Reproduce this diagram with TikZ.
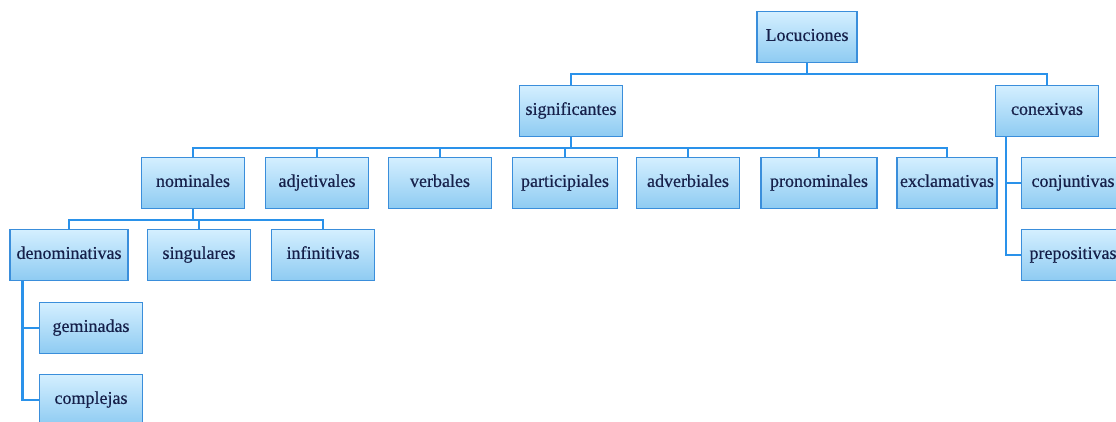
\documentclass[tikz,border=0pt]{standalone}
\usepackage{fontspec}
\setmainfont{Liberation Serif}
\newfontfamily\boxfont[FakeBold=0.4]{Liberation Serif}
\usepackage{xcolor}
\usepackage{tikz}
\definecolor{boxline}{HTML}{3A8EDB}
\definecolor{boxtop}{HTML}{D4EFFF}
\definecolor{boxbot}{HTML}{8ECBF2}
\definecolor{wire}{HTML}{2A92EA}
\definecolor{ink}{HTML}{16204A}

\begin{document}
\begin{tikzpicture}[x=1pt,y=-1pt,
  box/.style={draw=boxline, line width=1.3pt, top color=boxtop, bottom color=boxbot,
    minimum height=51pt, minimum width=#1, inner sep=1pt, text=ink,
    text height=1.0em, text depth=0.22em,
    font=\boxfont\fontsize{18}{21}\selectfont},
  box/.default=103pt,
  wire/.style={draw=wire, line width=2.4pt}]
\useasboundingbox (0,0) rectangle (1116,421);
\node[box=100pt] (loc) at (807,37) {Locuciones};
\node[box] (sig) at (571,111) {significantes};
\node[box] (con) at (1047,111) {conexivas};
\foreach \n/\x/\w/\t in {nom/193/103/nominales, adj/317/103/adjetivales, ver/440/103/verbales,
    par/565/105/participiales, adv/688/103/adverbiales, pro/819/116/pronominales, exc/947/100/exclamativas}
    \node[box=\w pt] (\n) at (\x,183) {\t};
\foreach \n/\x/\w/\t in {den/69/118/denominativas, sin/199/103/singulares, inf/323/103/infinitivas}
    \node[box=\w pt] (\n) at (\x,255) {\t};
\node[box] (cnj) at (1073,183) {conjuntivas};
\node[box] (pre) at (1073,255) {prepositivas};
\node[box] (gem) at (91,328) {geminadas};
\node[box] (cpl) at (91,400) {complejas};
% tree
\foreach \n in {sig,con} \draw[wire] (loc.south) -- ++(0,11) -| (\n.north);
\foreach \n in {nom,adj,ver,par,adv,pro,exc} \draw[wire] (sig.south) -- ++(0,11) -| (\n.north);
\foreach \n in {den,sin,inf} \draw[wire] (nom.south) -- ++(0,11) -| (\n.north);
\foreach \n in {gem,cpl} \draw[wire] ([xshift=13pt]den.south west) |- (\n.west);
\foreach \n in {cnj,pre} \draw[wire] ([xshift=11pt]con.south west) |- (\n.west);
\end{tikzpicture}
\end{document}
